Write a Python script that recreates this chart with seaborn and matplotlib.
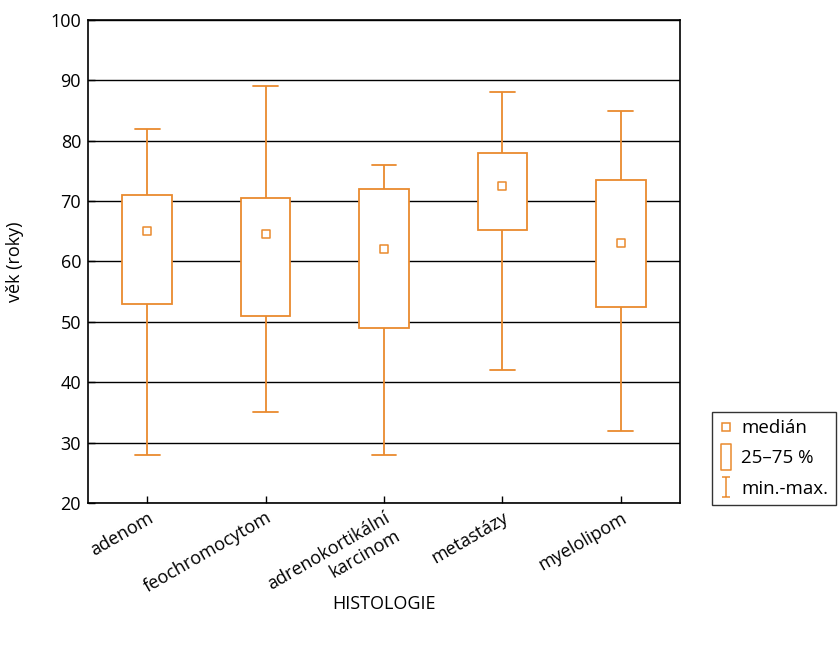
import pandas as pd
import seaborn as sns
import matplotlib.pyplot as plt
from matplotlib.lines import Line2D
from matplotlib.path import Path

# Summary values (age in years)
categories = ['adenom', 'feochromocytom', 'adrenokortikální\nkarcinom', 'metastázy', 'myelolipom']
age_min = [28, 35, 28, 42, 32]
age_q1 = [53, 51, 49, 65.3, 52.5]
age_median = [65, 64.5, 62, 72.5, 63]
age_q3 = [71, 70.5, 72, 78, 73.5]
age_max = [82, 89, 76, 88, 85]
y_ticks = [20, 30, 40, 50, 60, 70, 80, 90, 100]

orange = '#E98A2E'

# Five points per group give exactly these quartiles with linear percentiles
rows = []
for i, cat in enumerate(categories):
    for v in (age_min[i], age_q1[i], age_median[i], age_q3[i], age_max[i]):
        rows.append({'histologie': cat, 'vek': v})
data = pd.DataFrame(rows)
medians = pd.DataFrame({'histologie': categories, 'vek': age_median})

sns.set_style('white')
plt.rcParams['font.family'] = ['Open Sans', 'DejaVu Sans']
plt.rcParams['text.color'] = 'black'
plt.rcParams['axes.labelcolor'] = 'black'

fig = plt.figure(figsize=(8.38, 6.5), dpi=100)
ax = fig.add_axes([88 / 838, 147 / 650, 592 / 838, 483 / 650])

sns.boxplot(data=data, x='histologie', y='vek', order=categories, whis=(0, 100),
            width=0.42, color='white', linecolor=orange, linewidth=1.3,
            medianprops={'visible': False}, saturation=1, ax=ax, zorder=3)
sns.scatterplot(data=medians, x='histologie', y='vek', marker='s', s=26,
                facecolor='white', edgecolor=orange, linewidth=1.1, ax=ax, zorder=4)

ax.set_ylim(20, 100)
ax.set_xlim(-0.5, 4.5)
ax.set_yticks(y_ticks)
ax.yaxis.grid(True, color='black', linewidth=1)
ax.set_axisbelow(True)
for s in ax.spines.values():
    s.set_visible(True)
    s.set_color('black')
    s.set_linewidth(1.2)
ax.tick_params(axis='both', direction='in', length=5, width=1, colors='black',
               labelsize=13, bottom=True, left=True)
ax.tick_params(axis='y', pad=5)
ax.tick_params(axis='x', pad=4)
plt.setp(ax.get_xticklabels(), rotation=30, ha='right', rotation_mode='anchor')

ax.set_xlabel('HISTOLOGIE', fontsize=13)
ax.set_ylabel('věk (roky)', fontsize=13)
ax.xaxis.set_label_coords(0.5, -0.19)
ax.yaxis.set_label_coords(-0.108, 0.5)

# Legend with custom glyphs
box_marker = Path([(-0.4, -1), (0.4, -1), (0.4, 1), (-0.4, 1), (-0.4, -1)],
                  [Path.MOVETO, Path.LINETO, Path.LINETO, Path.LINETO, Path.CLOSEPOLY])
whisker_marker = Path([(-0.43, -1), (0.43, -1), (0, -1), (0, 1), (-0.43, 1), (0.43, 1)],
                      [Path.MOVETO, Path.LINETO, Path.MOVETO, Path.LINETO, Path.MOVETO, Path.LINETO])
handles = [
    Line2D([], [], ls='none', marker='s', markersize=5.5, mec=orange, mfc='white', mew=1.1),
    Line2D([], [], ls='none', marker=box_marker, markersize=18.5, mec=orange, mfc='none', mew=1.1),
    Line2D([], [], ls='none', marker=whisker_marker, markersize=15, mec=orange, mfc='none', mew=1.1),
]
leg = fig.legend(handles, ['medián', '25–75 %', 'min.-max.'], loc='lower left',
                 bbox_to_anchor=(712 / 838, 145 / 650), bbox_transform=fig.transFigure,
                 borderaxespad=0, fontsize=13.5, frameon=True, fancybox=False,
                 edgecolor='black', handlelength=0.7, handletextpad=0.45,
                 labelspacing=0.65, borderpad=0.4)
leg.get_frame().set_linewidth(1.0)

fig.savefig('out.png', dpi=100)
